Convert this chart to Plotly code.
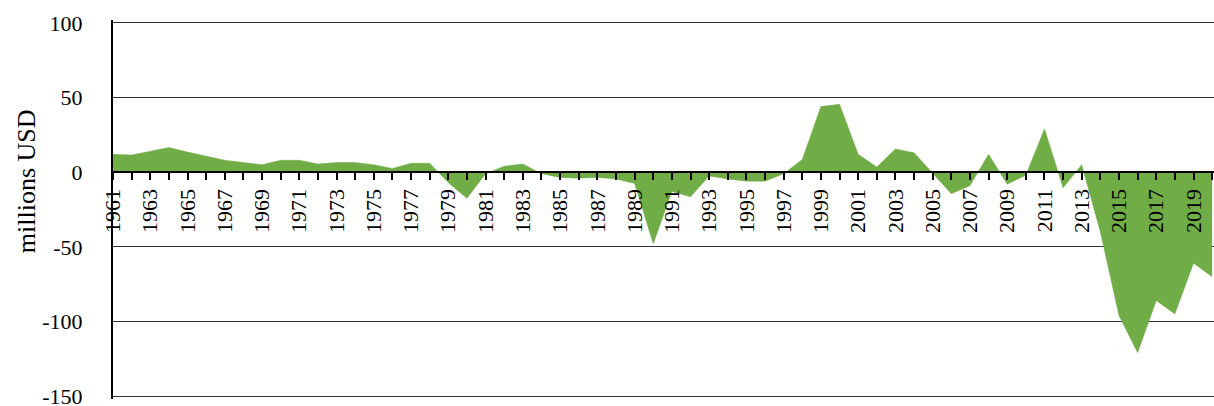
import plotly.graph_objects as go

# net values per year, millions USD
years = list(range(1961, 2021))
values = [
    12, 11.5, 14, 16.5, 13.5, 10.5, 8, 6.5, 5, 8,
    8, 5.5, 6.5, 6.5, 5, 2.5, 6, 6, -7, -17.5,
    -1, 4, 5.5, -1, -3.5, -4, -3.5, -4.5, -7.5, -48,
    -13, -16.5, -2.5, -4.5, -6, -6, -1, 8.5, 44, 45.5,
    12, 3.5, 15.5, 13, -1, -14.5, -9, 12, -8, -2,
    29, -10.5, 5, -40, -96, -121, -86, -95, -61, -70,
]
tick_labels = [str(y) if y % 2 == 1 else "" for y in years]
y_ticks = [-150, -100, -50, 0, 50, 100]
y_tick_labels = ["-150", "-100", "-50", "0", "50", "100"]

FONT = "Liberation Serif, Times New Roman, serif"
GREEN = "#70AD47"

fig = go.Figure()
fig.add_trace(
    go.Scatter(
        x=years,
        y=values,
        mode="lines",
        fill="tozeroy",
        fillcolor=GREEN,
        line=dict(color=GREEN, width=0.5),
        showlegend=False,
        hoverinfo="x+y",
    )
)

fig.update_layout(
    width=1214,
    height=406,
    margin=dict(l=113, r=0, t=20, b=7, autoexpand=False),
    plot_bgcolor="white",
    paper_bgcolor="white",
    font=dict(family=FONT, color="black"),
    xaxis=dict(
        range=[1961, 2020.1],
        anchor="free",
        position=152 / 254,
        automargin=False,
        tickmode="array",
        tickvals=years,
        ticktext=tick_labels,
        tickangle=-90,
        ticks="outside",
        ticklen=7,
        tickwidth=2,
        tickcolor="black",
        tickfont=dict(size=22, family=FONT, color="black"),
        showline=True,
        linecolor="black",
        linewidth=2,
        showgrid=False,
        zeroline=False,
    ),
    yaxis=dict(
        range=[-152, 102],
        automargin=False,
        tickmode="array",
        tickvals=y_ticks,
        ticktext=y_tick_labels,
        ticks="",
        ticklabelstandoff=24,
        ticklabeloverflow="allow",
        tickfont=dict(size=22, family=FONT, color="black"),
        showgrid=True,
        gridcolor="#333333",
        gridwidth=1,
        showline=True,
        linecolor="black",
        linewidth=2,
        zeroline=False,
    ),
    annotations=[
        dict(
            text="millions USD",
            textangle=-90,
            xref="paper",
            x=0,
            xanchor="center",
            xshift=-87,
            yref="y",
            y=-6,
            yanchor="middle",
            showarrow=False,
            font=dict(size=26, family=FONT, color="black"),
        )
    ],
)

# the page has a default body margin; drop it so the chart sits at 0,0
fig.write_html(
    "out.html",
    config={"displayModeBar": False},
    post_script="document.body.style.margin='0';document.body.style.overflow='hidden';",
)
